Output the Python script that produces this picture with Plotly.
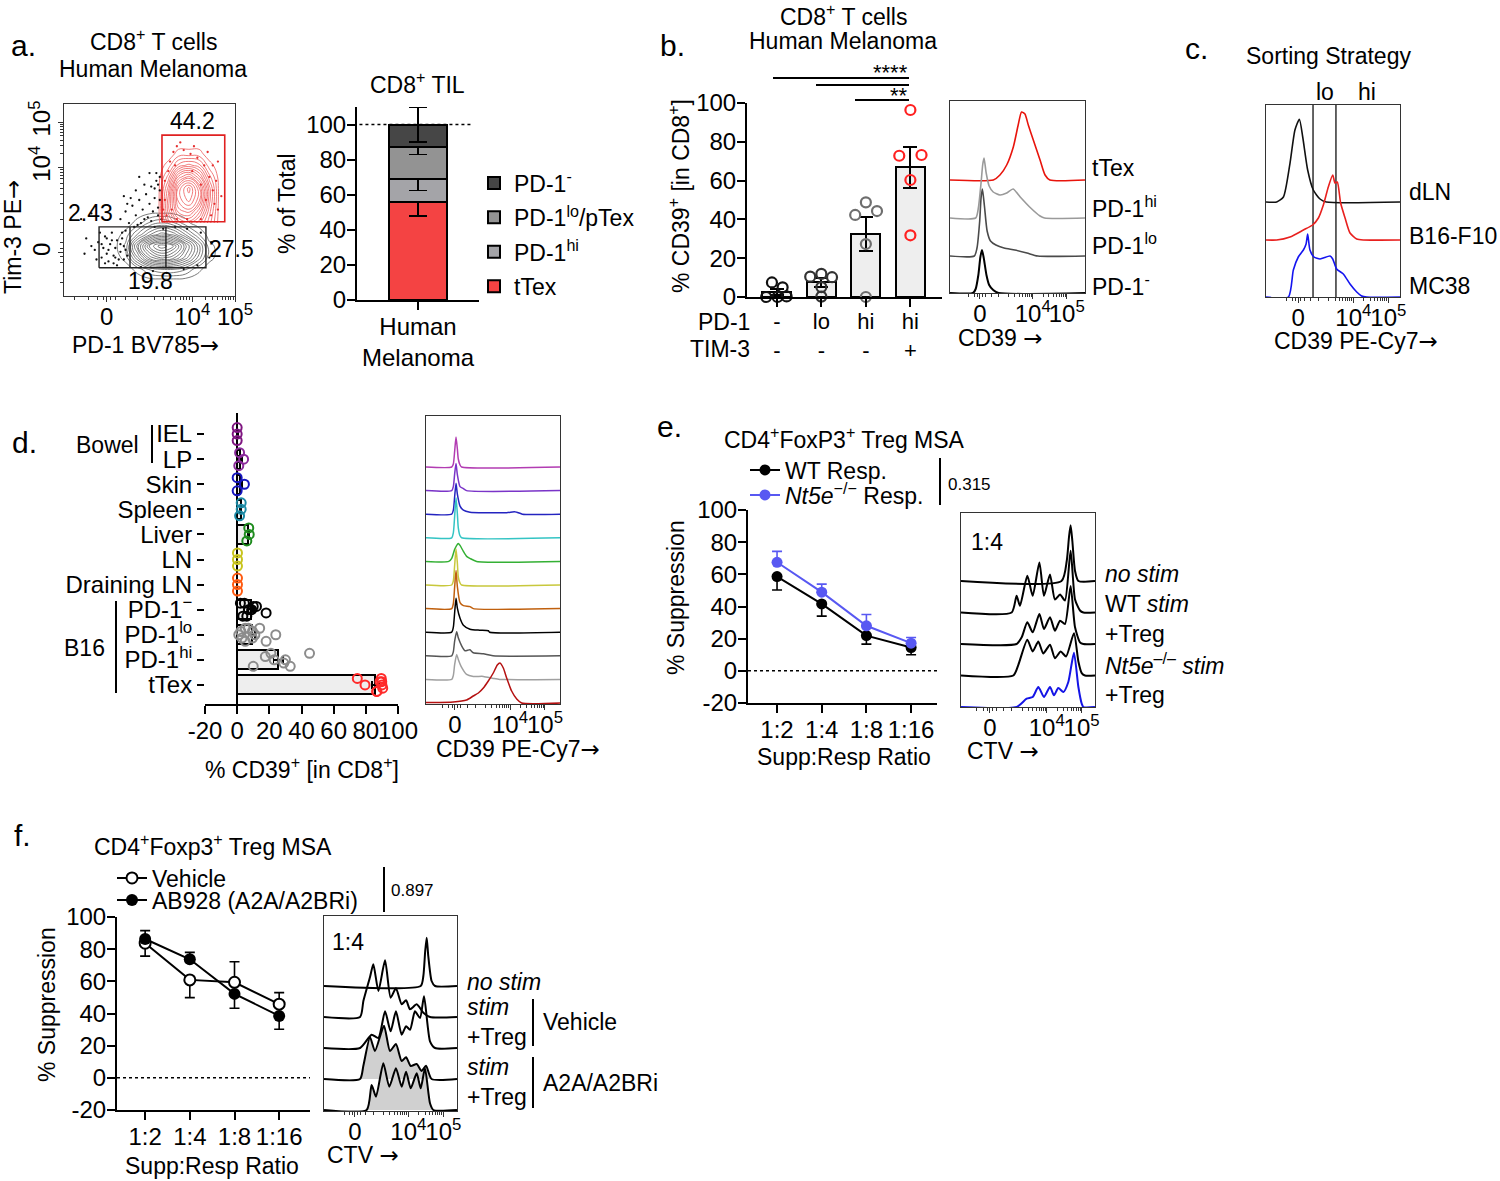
import math
import plotly.graph_objects as go

FONT = "Liberation Sans"
W, H = 1500, 1181

# ============================ DATA ============================
# (a) flow plot: PD-1 BV785 (x) vs Tim-3 PE (y), display units 0-100
a_gate_freq = ["44.2", "2.43", "27.5", "19.8"]
a_tex_gate_x = [57.3, 94, 94, 57.3, 57.3]
a_tex_gate_y = [38.7, 38.7, 83.8, 83.8, 38.7]
a_neg_gate_x = [20.5, 83, 83, 20.5, 20.5, None, 38.6, 38.6, None, 59.6, 59.6]
a_neg_gate_y = [14.7, 14.7, 36, 36, 14.7, None, 14.7, 36, None, 14.7, 36]
a_grey_gx = [15, 22, 29, 36, 43, 50, 57, 64, 71, 78, 85, 92]
a_grey_gy = [8, 14, 20, 26, 32, 38, 44]
a_grey_z = [
    [0, 0, 0, 0, 0, 0, 0, 0, 0, 0, 0, 0],
    [0, 0, 0, 0, 1, 3, 4, 4, 3, 1, 0, 0],
    [0, 0, 0, 1, 6, 11, 13, 12, 9, 5, 1, 0],
    [0, 0, 0, 2, 9, 15, 18, 16, 11, 6, 1, 0],
    [0, 0, 0, 1, 4, 7, 9, 8, 5, 2, 0, 0],
    [0, 0, 0, 0, 1, 3, 4, 3, 1, 0, 0, 0],
    [0, 0, 0, 0, 0, 0, 0, 0, 0, 0, 0, 0],
]
a_red_gx = [55, 61, 67, 73, 79, 85, 91]
a_red_gy = [38, 44, 50, 56, 62, 68, 74, 80]
a_red_z = [
    [0, 4, 7, 8, 6, 3, 0],
    [0, 6, 11, 12, 9, 4, 0],
    [0, 6, 13, 15, 12, 5, 0],
    [0, 5, 13, 16, 12, 5, 0],
    [0, 3, 9, 11, 8, 3, 0],
    [0, 1, 4, 5, 4, 1, 0],
    [0, 0, 1, 1, 1, 0, 0],
    [0, 0, 0, 0, 0, 0, 0],
]
a_dot_x = [18, 20, 22, 23, 24, 25, 26, 27, 28, 29, 30, 31, 32, 33, 34, 35, 36, 37, 21, 19, 24, 31, 16, 13, 12, 10, 16,
           33, 36, 38, 40, 42, 44, 45, 46, 48, 49, 50, 51, 52, 53, 54, 55, 47, 42, 39, 44, 50, 56, 57, 37, 41, 35,
           45, 52, 60, 70, 78, 85, 86, 80, 72, 65, 58, 26, 28, 30, 33, 35, 22, 25, 29, 36, 34,
           43, 47, 51, 53, 55, 56, 55, 54, 56, 53]
a_dot_y = [24, 28, 20, 25, 31, 22, 18, 27, 33, 21, 25, 29, 19, 23, 30, 26, 34, 21, 33, 19, 17, 16, 26, 30, 22, 40, 43,
           40, 44, 38, 47, 42, 50, 38, 45, 53, 41, 48, 57, 44, 51, 60, 46, 58, 55, 51, 62, 64, 55, 40, 48, 36, 52,
           15, 13, 12, 14, 16, 20, 28, 33, 35, 36, 35, 24, 29, 20, 27, 19, 27, 30, 17, 24, 33,
           37, 40, 39, 36, 42, 50, 58, 64, 62, 56]
a_reddot_x = [60, 62, 64, 66, 70, 74, 78, 82, 85, 87, 88, 86, 80, 72, 66, 59, 59, 61, 76, 90, 89, 84, 68, 92, 58,
              63, 83, 80, 75, 65, 90, 87]
a_reddot_y = [42, 70, 75, 78, 76, 74, 72, 68, 62, 55, 48, 42, 40, 40, 40, 50, 60, 65, 78, 70, 60, 75, 80, 52, 45,
              45, 50, 58, 65, 68, 45, 68]

# (a) CD8+ TIL composition (stacked, % of total)
a_bar_groups = ["tTex", "PD-1<sup>hi</sup>", "PD-1<sup>lo</sup>/pTex", "PD-1<sup>-</sup>"]
a_bar_means = [56, 13, 18, 13]
a_bar_errs = [8, 6.5, 4, 10]
a_bar_category = "Human<br>Melanoma"

# (b) % CD39+ in CD8+ subsets
b_pd1 = ["-", "lo", "hi", "hi"]
b_tim3 = ["-", "-", "-", "+"]
b_means = [2.5, 7.6, 32.5, 66.9]
b_sem = [1.5, 2.3, 8.7, 10.6]
b_points = [
    [7.5, 5.0, 0.0, 0.0, 0.3],
    [10.5, 11.9, 10.2, 5.1, 0.2],
    [42.3, 48.8, 44.3, 27.3, 0.0],
    [96.4, 72.8, 73.2, 60.3, 31.8],
]
b_stars = ["****", "**"]

# (b) CD39 histograms (x: display units, y: height)
b_h_neg_x = [0, 17, 19, 21, 22.5, 23.7, 25, 27, 29, 32, 36, 100]
b_h_neg_y = [0, 0, 4, 18, 36, 43, 35, 18, 8, 3, 0, 0]
b_h_lo_x = [0, 18, 20, 22, 23, 24, 25.5, 27.5, 30, 34, 40, 48, 57, 65, 100]
b_h_lo_y = [0, 0, 8, 35, 58, 67, 50, 25, 15, 11, 8, 6, 3, 0, 0]
b_h_hi_x = [0, 19, 21, 23, 24.2, 25.2, 26.8, 29, 32, 37, 42, 46.7, 52, 59, 66.7, 70, 100]
b_h_hi_y = [0, 0, 10, 35, 53, 60, 45, 32, 26, 23, 25, 29, 21, 11, 2, 0, 0]
b_h_tex_x = [0, 32.1, 37, 42, 46.9, 50.5, 53, 55.5, 58, 61.7, 66.7, 70.4, 74, 100]
b_h_tex_y = [0, 0, 5, 15, 33, 55, 68, 66, 55, 40, 20, 5, 0, 0]

# (c) sorting strategy histograms
c_gates = [35.1, 52.2]
c_dln_x = [0, 8, 13, 17.9, 21.6, 24.9, 27.4, 31.1, 35.3, 40.3, 45, 100]
c_dln_y = [0, 0, 5, 38.7, 72, 82.7, 65, 32, 12, 3, 0, 0]
c_b16_x = [0, 8, 17.9, 27.9, 34.8, 39.1, 42.8, 46.5, 49.8, 51.5, 53.2, 55.7, 59, 62.7, 67.7, 72.6, 100]
c_b16_y = [0, 0, 3, 10, 15, 22, 35, 53, 65, 57, 58, 37, 22, 7, 1, 0, 0]
c_mc38_x = [0, 16.7, 20.4, 24.1, 27.9, 29.9, 31.1, 32.8, 35.8, 40.3, 42.8, 47.8, 49.8, 52.7, 57.7, 62.7, 67.7,
            71.4, 75.1, 100]
c_mc38_y = [0, 0, 27, 40, 47, 53, 63, 47, 40, 38, 39, 41, 38, 28, 23, 13, 5, 1, 0, 0]

# (d) % CD39+ across tissues
d_cats = ["IEL", "LP", "Skin", "Spleen", "Liver", "LN", "Draining LN",
          "PD-1<sup>\u2212</sup>", "PD-1<sup>lo</sup>", "PD-1<sup>hi</sup>", "tTex"]
d_colors = ["#7E1580", "#8A2A9A", "#1515C0", "#1C8AA5", "#1E8C1E", "#C8C41E", "#FF5A10",
            "#000000", "#8C8C8C", "#8C8C8C", "#FF2A2A"]
d_means = [0.2, 2.0, 1.5, 2.2, 6.9, 0.2, 0.2, 8.5, 9.0, 25.5, 86.0]
d_errs = [0.2, 1.0, 1.5, 0.5, 0.5, 0.1, 0.1, 1.8, 2.0, 3.0, 2.0]
d_points = [
    [0, 0, 0],
    [1.5, 4, 1],
    [0, 4.5, 0],
    [2.5, 2.5, 1.5],
    [7.2, 7.5, 6],
    [0.2, 0.2, 0.2],
    [0.2, 0.2, 0.2],
    [2, 9, 6, 12, 18, 4.5, 7, 3.5, 10],
    [5, 11, 18, 2.3, 9.5, 14, 24, 5, 9.5, 3, 7, 1],
    [21, 30, 10, 17.5, 29, 45, 23, 33],
    [74.7, 79.5, 86.8, 89.9, 90.5, 89.6, 90, 86.8, 88.8],
]
# (d) CD39 histograms, top to bottom (same order as d_cats)
d_hist_colors = ["#B23CB2", "#7A34C8", "#2424C0", "#34C4C4", "#34B034", "#C8C83C", "#C0600E",
                 "#000000", "#555555", "#A0A0A0", "#B41010"]
d_h_x = [
    [0, 19.2, 20.4, 21.4, 22.4, 23.4, 24.1, 25.4, 26.6, 100],
    [0, 19.2, 20.4, 21.4, 22.4, 23.4, 25.4, 27.9, 30.3, 100],
    [0, 19.2, 20.4, 21.4, 22.4, 23.4, 25.4, 27.9, 32.8, 45.3, 60.2, 66, 67.7, 70.1, 72, 100],
    [0, 19.2, 20.4, 21.4, 22.4, 23.4, 24.1, 25.4, 26.6, 100],
    [0, 17, 19.2, 21.4, 23.4, 24.1, 25.4, 27.9, 30.3, 32.8, 37.8, 100],
    [0, 19.2, 20.4, 21.4, 22.4, 23.4, 24.1, 25.4, 26.6, 100],
    [0, 19.2, 20.4, 21.4, 22.4, 23.4, 25.4, 27.9, 32.8, 35.3, 100],
    [0, 19.2, 20.4, 21.4, 22.4, 23.4, 25.4, 27.9, 32.8, 40, 46.5, 47.5, 100],
    [0, 19.2, 20.4, 21.4, 22.9, 24.1, 26.6, 29.1, 31, 32.8, 35.3, 42.8, 50, 100],
    [0, 19.2, 20.4, 21.4, 22.9, 24.1, 26.6, 30.3, 35.3, 42.8, 50.2, 55, 100],
    [0, 3, 20.4, 30.3, 35.3, 39.1, 42.8, 46.5, 50.2, 53.2, 55.2, 57.7, 60.2, 63.9, 67.7, 71.4, 100],
]
d_h_y = [
    [0, 0, 3, 16, 30, 18, 8, 2, 0, 0],
    [0, 0, 4, 17, 27, 16, 4, 2, 0, 0],
    [0, 0, 4, 18, 31, 20, 8, 4, 2, 1.5, 1.5, 2.5, 2, 1, 0, 0],
    [0, 0, 5, 22, 40, 24, 10, 2, 0, 0],
    [0, 0, 3, 12, 17, 18, 16, 10, 5, 3, 0, 0],
    [0, 0, 4, 20, 36, 22, 8, 2, 0, 0],
    [0, 0, 5, 22, 38, 22, 6, 3, 2, 0, 0],
    [0, 0, 5, 20, 34, 24, 14, 7, 3, 2, 1.5, 0, 0],
    [0, 0, 4, 15, 24, 18, 10, 5, 5.5, 6, 3, 2, 0, 0],
    [0, 0, 4, 15, 25, 20, 12, 5, 3, 3, 1, 0, 0],
    [0.5, 0.5, 1, 3, 7, 10, 15, 22, 30, 38, 40, 35, 25, 12, 4, 0, 0],
]

# (e) Treg suppression assay
e_ratios = ["1:2", "1:4", "1:8", "1:16"]
e_wt = [58.6, 41.6, 21.9, 14.5]
e_wt_err = [8.3, 7.6, 5.3, 4.5]
e_ko = [67.5, 48.9, 28.0, 17.2]
e_ko_err = [6.8, 5.0, 7.0, 3.5]
e_p = "0.315"
e_h_nostim_x = [0, 75, 78.9, 80.6, 81.8, 83.1, 85.1, 87.6, 100]
e_h_nostim_y = [0, 0, 20, 44, 55.7, 40, 10, 0, 0]
e_h_wt_x = [0, 37.8, 41.5, 44.0, 49.5, 53.5, 58.5, 61.9, 66.4, 70.1, 73.9, 77.6, 81.8, 85.1, 88.8, 91.3, 100]
e_h_wt_y = [0, 0, 16.7, 6.7, 36.7, 16.7, 50, 16.7, 38, 13, 18, 12, 61.7, 13, 2, 0, 0]
e_h_wtreg_x = [0, 41.5, 45.3, 49.5, 53.5, 58.5, 61.9, 66.4, 70.1, 73.9, 77.6, 81.8, 85.1, 88.8, 91.3, 100]
e_h_wtreg_y = [0, 0, 6.7, 21.7, 11.7, 30, 15, 26.7, 13.3, 23.3, 20, 58, 16.7, 1.7, 0, 0]
e_h_ko_x = [0, 39.05, 42.8, 49.5, 53.5, 57.7, 61.4, 66.4, 70.1, 74.4, 78.4, 84.3, 87.6, 90.1, 92.5, 100]
e_h_ko_y = [0, 0, 10.7, 35.7, 24, 34, 22, 30.7, 17.3, 24, 19, 42.3, 14, 2.3, 0, 0]
e_h_koreg_x = [0, 41.5, 49.0, 53.5, 57.7, 61.9, 66.4, 69.4, 72.6, 76.4, 80.1, 84.3, 87.6, 90.1, 91.3, 100]
e_h_koreg_y = [0, 0, 8.3, 10, 20, 10, 20, 11.7, 19, 15, 25, 54.3, 20, 3.3, 0, 0]

# (f) Treg suppression with A2A/A2B inhibitor
f_veh = [83.7, 60.9, 59.4, 45.8]
f_veh_up = [0, 0, 12.8, 7.2]
f_veh_dn = [8, 11, 0, 0]
f_ab = [86.3, 73.7, 52.2, 38.5]
f_ab_up = [5.2, 4.3, 0, 0]
f_ab_dn = [0, 0, 8.9, 8.3]
f_p = "0.897"
f_h_nostim_x = [0, 72.7, 74.7, 76.1, 77.2, 78.4, 80.9, 83.5, 100]
f_h_nostim_y = [0, 0, 10, 35, 48.3, 30, 5, 0, 0]
f_h_veh_x = [0, 27.1, 29.6, 34.6, 37.1, 40.9, 45.9, 50.1, 54.1, 58.4, 61.7, 64.7, 69.7, 74.7, 79.7, 100]
f_h_veh_y = [0, 0, 16, 40, 52.7, 26, 56.7, 19.3, 28.7, 12.7, 16.7, 7.7, 12.7, 4.3, 0, 0]
f_h_vehreg_x = [0, 27.1, 35.8, 40.9, 45.9, 50.1, 54.1, 58.4, 61.7, 64.7, 68.4, 72.2, 75.2, 79.7, 83.5, 100]
f_h_vehreg_y = [0, 0, 13.3, 10, 36.7, 16.7, 36.7, 13.3, 21.7, 18.3, 36.7, 30, 51.7, 6.7, 0, 0]
f_h_ab_x = [0, 27.1, 29.6, 34.6, 38.3, 45.1, 49.6, 54.1, 58.4, 61.7, 65.2, 69.7, 73.4, 76.7, 80.9, 100]
f_h_ab_y = [0, 0, 13.3, 41.7, 28, 53.3, 28, 35, 18, 21.7, 13, 15, 8, 13.3, 0, 0]
f_h_abreg_x = [0, 32.1, 35.8, 39.1, 44.6, 49.1, 54.1, 58.4, 61.7, 65.2, 69.7, 72.7, 75.9, 79.7, 82.2, 100]
f_h_abreg_y = [0, 0, 25, 13.3, 46.7, 23.3, 41.7, 23.3, 38.3, 21.7, 36.7, 21.7, 41.7, 6.7, 0, 0]

# ====================== GEOMETRY / STYLE ======================
TXT = 23      # general text size
TICK = 24     # axis tick label size
ARROW = '<span style="font-family:DejaVu Sans">\u2192</span>'


def xd(x0, x1):
    return [x0 / W, x1 / W]


def yd(top, bottom):
    return [1 - bottom / H, 1 - top / H]


def px(x):
    return x / W


def py(y):
    return 1 - y / H


def xn(n):
    return "x" if n == 1 else f"x{n}"


def yn(n):
    return "y" if n == 1 else f"y{n}"


def merge(*ds, **kw):
    out = {}
    for d in ds:
        out.update(d)
    out.update(kw)
    return out


fig = go.Figure()
shapes = []
anns = []


def T(n, trace):
    trace.update(xaxis=xn(n), yaxis=yn(n))
    fig.add_trace(trace)


def txt(x, y, s, size=TXT, xa="center", ya="middle", angle=0):
    anns.append(dict(x=px(x), y=py(y), xref="paper", yref="paper", text=s, showarrow=False,
                     font=dict(family=FONT, size=size, color="black"),
                     xanchor=xa, yanchor=ya, textangle=angle))


def pline(x0, y0, x1, y1, width=2, color="black"):
    shapes.append(dict(type="line", xref="paper", yref="paper", x0=px(x0), y0=py(y0),
                       x1=px(x1), y1=py(y1), line=dict(color=color, width=width)))


def ref_hline(n, yval, d0=0, d1=1):
    shapes.append(dict(type="line", xref=f"{xn(n)} domain", yref=yn(n), x0=d0, x1=d1, y0=yval, y1=yval,
                       line=dict(color="black", width=1.5, dash="dot")))


def hist(n, xs, ys, off, color, width=1.6, fill=None):
    tr = go.Scatter(x=xs, y=[v + off for v in ys], mode="lines",
                    line=dict(color=color, width=width, shape="spline", smoothing=0.6),
                    showlegend=False, hoverinfo="skip")
    if fill:
        tr.update(fill="toself", fillcolor=fill)
    T(n, tr)


def flow_ticks(zero, d3, d4, d5, neg=None):
    minor = [d3]
    if neg is not None:
        minor.append(neg)
    for a, b in ((d3, d4), (d4, d5)):
        for k in range(2, 10):
            minor.append(a + (b - a) * math.log10(k))
    w = d3 - zero
    for f in (-0.6, -0.3, -0.12, 0.12, 0.3, 0.6):
        minor.append(zero + f * w)
    return dict(tickmode="array", tickvals=[zero, d4, d5],
                ticktext=["0", "10<sup>4</sup>", "10<sup>5</sup>"], tickangle=0,
                minor=dict(tickmode="array", tickvals=[m for m in minor if 0 < m < 100],
                           ticks="outside", ticklen=3, tickwidth=1, tickcolor="#333"))


TICKFONT = dict(family=FONT, size=TICK, color="black")
gp_axis = dict(showline=True, linecolor="black", linewidth=2, ticks="outside", ticklen=8, tickwidth=2,
               tickcolor="black", showgrid=False, zeroline=False, tickfont=TICKFONT, fixedrange=True,
               tickangle=0, ticklabelstandoff=-4)
flow_axis = dict(showline=True, mirror=True, linecolor="#333", linewidth=1, showgrid=False, zeroline=False,
                 ticks="outside", ticklen=5, tickwidth=1, tickcolor="#333", tickfont=TICKFONT,
                 ticklabelstandoff=-6)
flow_yframe = dict(showline=True, mirror=True, linecolor="#333", linewidth=1, showgrid=False, zeroline=False,
                   ticks="", showticklabels=False)

axes = {}


def set_axes(n, xcfg, ycfg):
    axes["xaxis" if n == 1 else f"xaxis{n}"] = merge(xcfg, anchor=yn(n))
    axes["yaxis" if n == 1 else f"yaxis{n}"] = merge(ycfg, anchor=xn(n))


# ---------------- Panel a: flow plot ----------------
T(1, go.Scatter(x=a_dot_x, y=a_dot_y, mode="markers", marker=dict(size=2.3, color="#111"),
                showlegend=False, hoverinfo="skip"))
T(1, go.Scatter(x=a_reddot_x, y=a_reddot_y, mode="markers", marker=dict(size=2.3, color="#E53030"),
                showlegend=False, hoverinfo="skip"))
T(1, go.Contour(x=a_grey_gx, y=a_grey_gy, z=a_grey_z, showscale=False, hoverinfo="skip",
                contours=dict(coloring="lines", start=0.6, end=18, size=1.1),
                colorscale=[[0, "#5a5a5a"], [1, "#5a5a5a"]], line=dict(width=0.8, smoothing=1.3)))
T(1, go.Contour(x=a_red_gx, y=a_red_gy, z=a_red_z, showscale=False, hoverinfo="skip",
                contours=dict(coloring="lines", start=0.6, end=16, size=1.0),
                colorscale=[[0, "#EE5A5A"], [1, "#EE5A5A"]], line=dict(width=0.8, smoothing=1.3)))
T(1, go.Scatter(x=a_neg_gate_x, y=a_neg_gate_y, mode="lines", line=dict(color="#222", width=1.4),
                showlegend=False, hoverinfo="skip"))
T(1, go.Scatter(x=a_tex_gate_x, y=a_tex_gate_y, mode="lines", line=dict(color="#E02020", width=1.6),
                showlegend=False, hoverinfo="skip"))
set_axes(1,
         merge(flow_axis, flow_ticks(25, 43, 75, 100, 6.4), domain=xd(64, 235), range=[0, 100]),
         merge(flow_axis, flow_ticks(22.5, 39.8, 67, 90.6, 6.8), domain=yd(104, 296), range=[0, 100],
               tickangle=-90, ticklabelstandoff=-2))

# ---------------- Panel a: stacked composition bar ----------------
a_colors = ["#F44343", "#A4A4A8", "#939393", "#464646"]
a_ranks = [4, 3, 2, 1]
for name, val, err, col, rk in zip(a_bar_groups, a_bar_means, a_bar_errs, a_colors, a_ranks):
    T(2, go.Bar(x=[0], y=[val], width=0.475, name=name, legend="legend", legendgroup=name, legendrank=rk,
                marker=dict(color=col, line=dict(color="black", width=2)),
                error_y=dict(type="data", array=[err], color="black", thickness=1.6, width=9)))
ref_hline(2, 100, 0.02, 0.95)
set_axes(2,
         merge(gp_axis, domain=xd(357, 479), range=[-0.5, 0.5], tickmode="array", tickvals=[0],
               ticktext=[a_bar_category]),
         merge(gp_axis, domain=yd(107, 300), range=[0, 110], tickmode="array",
               tickvals=[0, 20, 40, 60, 80, 100]))

# ---------------- Panel b: bar + points ----------------
b_jitter = [[-0.11, 0.13, -0.24, 0.015, 0.22], [-0.25, 0, 0.24, 0, 0], [-0.24, 0, 0.25, 0, 0],
            [0, -0.25, 0.25, 0, 0]]
b_point_colors = ["#111111", "#333333", "#6E6E6E", "#FF2020"]
T(3, go.Bar(x=[0, 1, 2, 3], y=b_means, width=0.65, showlegend=False,
            marker=dict(color="#EEEEEE", line=dict(color="black", width=2)),
            error_y=dict(type="data", array=b_sem, color="black", thickness=2, width=7)))
for i, pts in enumerate(b_points):
    T(3, go.Scatter(x=[i + j for j in b_jitter[i]], y=pts, mode="markers", showlegend=False,
                    cliponaxis=False,
                    marker=dict(symbol="circle-open", size=10, color=b_point_colors[i], line=dict(width=2.2))))
set_axes(3,
         merge(gp_axis, domain=xd(747, 942), range=[-0.67, 3.71], tickmode="array", tickvals=[0, 1, 2, 3],
               ticktext=[f"{p}<br>{t}" for p, t in zip(b_pd1, b_tim3)],
               tickfont=dict(family=FONT, size=22, color="black")),
         merge(gp_axis, domain=yd(103, 297), range=[0, 100], tickmode="array",
               tickvals=[0, 20, 40, 60, 80, 100]))
for x0, x1, yy in [(773, 909, 78), (816, 909, 85), (855, 909, 100)]:
    pline(x0, yy, x1, yy, width=2)
txt(890, 73, b_stars[0], 22)
txt(899, 95, b_stars[1], 22)

# ---------------- Panel b: CD39 histograms ----------------
hist(4, b_h_tex_x, b_h_tex_y, 113, "#E8140C")
hist(4, b_h_hi_x, b_h_hi_y, 75, "#9A9A9A")
hist(4, b_h_lo_x, b_h_lo_y, 37, "#4A4A4A")
hist(4, b_h_neg_x, b_h_neg_y, 0, "#000000", width=2)
set_axes(4, merge(flow_axis, flow_ticks(22.2, 36, 61.3, 86.5), domain=xd(950, 1085), range=[0, 100]),
         merge(flow_yframe, domain=yd(101, 293), range=[0, 192]))

# ---------------- Panel c: sorting strategy ----------------
for g in c_gates:
    T(5, go.Scatter(x=[g, g], y=[0, 192], mode="lines", line=dict(color="#222", width=1.4),
                    showlegend=False, hoverinfo="skip"))
hist(5, c_dln_x, c_dln_y, 95, "#111111")
hist(5, c_b16_x, c_b16_y, 57, "#E8201E")
hist(5, c_mc38_x, c_mc38_y, 0, "#1414F0")
set_axes(5, merge(flow_axis, flow_ticks(24.1, 39, 65.2, 91.3), domain=xd(1266, 1400), range=[0, 100]),
         merge(flow_yframe, domain=yd(105, 297), range=[0, 192]))

# ---------------- Panel d: horizontal bars + points ----------------
d_jit = [-0.26, 0, 0.26, -0.13, 0.13]
T(6, go.Bar(x=d_means, y=list(range(len(d_cats))), orientation="h", width=0.76, showlegend=False,
            marker=dict(color="#EEEEEE", line=dict(color="black", width=2)),
            error_x=dict(type="data", array=d_errs, color="black", thickness=1.6, width=4)))
for i, pts in enumerate(d_points):
    T(6, go.Scatter(x=pts, y=[i + d_jit[k % len(d_jit)] for k in range(len(pts))], mode="markers",
                    showlegend=False, cliponaxis=False,
                    marker=dict(symbol="circle-open", size=9, color=d_colors[i], line=dict(width=2))))
set_axes(6,
         merge(gp_axis, domain=xd(205, 398), range=[-20, 100], tickmode="array",
               tickvals=[-20, 0, 20, 40, 60, 80, 100], ticktext=["-20", "0", "20", "40", "60", "80", "100"],
               zeroline=True, zerolinecolor="black", zerolinewidth=2),
         merge(gp_axis, domain=yd(413, 704), range=[10.76, -0.84], showline=False, ticklen=7,
               ticklabelstandoff=0,
               tickmode="array", tickvals=list(range(len(d_cats))), ticktext=d_cats))

# ---------------- Panel d: histograms ----------------
for i in range(len(d_h_x)):
    hist(7, d_h_x[i], d_h_y[i], (10 - i) * 23.6 + 1, d_hist_colors[i], width=1.5)
set_axes(7, merge(flow_axis, flow_ticks(21.6, 36.6, 62.7, 88.8), domain=xd(426, 560), range=[0, 100]),
         merge(flow_yframe, domain=yd(416, 704), range=[0, 288]))

# ---------------- Panel e: suppression lines ----------------
ref_hline(8, 0)
T(8, go.Scatter(x=[0, 1, 2, 3], y=e_wt, mode="lines+markers", name="WT Resp.", legend="legend2",
                cliponaxis=False, line=dict(color="black", width=2), marker=dict(size=11, color="black"),
                error_y=dict(type="data", symmetric=False, array=[0, 0, 0, 0], arrayminus=e_wt_err,
                             color="black", thickness=1.6, width=5)))
T(8, go.Scatter(x=[0, 1, 2, 3], y=e_ko, mode="lines+markers",
                name="<i>Nt5e</i><sup>\u2212/\u2212</sup> Resp.", legend="legend3",
                cliponaxis=False, line=dict(color="#5858F2", width=2), marker=dict(size=11, color="#5858F2"),
                error_y=dict(type="data", symmetric=False, array=e_ko_err, arrayminus=[0, 0, 0, 0],
                             color="#5858F2", thickness=1.6, width=5)))
set_axes(8,
         merge(gp_axis, domain=xd(748, 937), range=[-0.65, 3.58], tickmode="array", tickvals=[0, 1, 2, 3],
               ticktext=e_ratios),
         merge(gp_axis, domain=yd(510, 703), range=[-20, 100], tickmode="array",
               tickvals=[-20, 0, 20, 40, 60, 80, 100], ticktext=["-20", "0", "20", "40", "60", "80", "100"]))

# ---------------- Panel e: CTV histograms ----------------
hist(9, e_h_nostim_x, e_h_nostim_y, 126, "#000000", width=2)
hist(9, e_h_wt_x, e_h_wt_y, 94.5, "#000000", width=2)
hist(9, e_h_wtreg_x, e_h_wtreg_y, 63, "#000000", width=2)
hist(9, e_h_ko_x, e_h_ko_y, 31.5, "#000000", width=2)
hist(9, e_h_koreg_x, e_h_koreg_y, 0, "#1414E6", width=2)
set_axes(9, merge(flow_axis, flow_ticks(21.6, 38, 64, 90), domain=xd(961, 1095), range=[0, 100]),
         merge(flow_yframe, domain=yd(513, 707), range=[0, 194]))

# ---------------- Panel f: suppression lines ----------------
ref_hline(10, 0)
T(10, go.Scatter(x=[0, 1, 2, 3], y=f_veh, mode="lines+markers", name="Vehicle", legend="legend4",
                 cliponaxis=False, line=dict(color="black", width=2),
                 marker=dict(size=11, color="white", line=dict(color="black", width=2)),
                 error_y=dict(type="data", symmetric=False, array=f_veh_up, arrayminus=f_veh_dn,
                              color="black", thickness=1.6, width=5)))
T(10, go.Scatter(x=[0, 1, 2, 3], y=f_ab, mode="lines+markers", name="AB928 (A2A/A2BRi)", legend="legend5",
                 cliponaxis=False, line=dict(color="black", width=2), marker=dict(size=12, color="black"),
                 error_y=dict(type="data", symmetric=False, array=f_ab_up, arrayminus=f_ab_dn,
                              color="black", thickness=1.6, width=5)))
set_axes(10,
         merge(gp_axis, domain=xd(117, 310), range=[-0.63, 3.69], tickmode="array", tickvals=[0, 1, 2, 3],
               ticktext=e_ratios),
         merge(gp_axis, domain=yd(917, 1110), range=[-20, 100], tickmode="array",
               tickvals=[-20, 0, 20, 40, 60, 80, 100], ticktext=["-20", "0", "20", "40", "60", "80", "100"]))

# ---------------- Panel f: CTV histograms ----------------
hist(11, f_h_nostim_x, f_h_nostim_y, 125, "#000000", width=2)
hist(11, f_h_veh_x, f_h_veh_y, 94, "#000000", width=2)
hist(11, f_h_vehreg_x, f_h_vehreg_y, 63, "#000000", width=2)
hist(11, f_h_ab_x, f_h_ab_y, 32, "#000000", width=2, fill="#D0D0D0")
hist(11, f_h_abreg_x, f_h_abreg_y, 1, "#000000", width=2, fill="#D0D0D0")
set_axes(11, merge(flow_axis, flow_ticks(23.3, 37, 63.4, 89.7), domain=xd(324, 457), range=[0, 100]),
         merge(flow_yframe, domain=yd(916, 1111), range=[0, 195]))

# ======================== TEXT ========================
# a
txt(9, 45, "a.", 30, xa="left")
txt(153, 40, "CD8<sup>+</sup> T cells")
txt(153, 69, "Human Melanoma")
txt(13, 237, "Tim-3 PE" + ARROW, angle=-90)
txt(192, 121, a_gate_freq[0])
txt(90, 213, a_gate_freq[1])
txt(231, 249, a_gate_freq[2])
txt(150, 281, a_gate_freq[3])
txt(145, 345, "PD-1 BV785" + ARROW)
txt(417, 83, "CD8<sup>+</sup> TIL")
txt(287, 204, "% of Total", angle=-90)
# b
txt(658, 45, "b.", 30, xa="left")
txt(843, 15, "CD8<sup>+</sup> T cells")
txt(843, 41, "Human Melanoma")
txt(752, 322, "PD-1", xa="right")
txt(752, 349, "TIM-3", xa="right")
txt(679, 196, "% CD39<sup>+</sup> [in CD8<sup>+</sup>]", angle=-90)
txt(1090, 168, "tTex", xa="left")
txt(1090, 207, "PD-1<sup>hi</sup>", xa="left")
txt(1090, 244, "PD-1<sup>lo</sup>", xa="left")
txt(1090, 285, "PD-1<sup>-</sup>", xa="left")
txt(1000, 338, "CD39 " + ARROW)
# c
txt(1183, 48, "c.", 30, xa="left")
txt(1328, 56, "Sorting Strategy")
txt(1325, 92, "lo")
txt(1367, 92, "hi")
txt(1407, 192, "dLN", xa="left")
txt(1407, 236, "B16-F10", xa="left")
txt(1407, 286, "MC38", xa="left")
txt(1356, 341, "CD39 PE-Cy7" + ARROW)
# d
txt(10, 442, "d.", 30, xa="left")
txt(108, 445, "Bowel")
pline(152, 425, 152, 463)
txt(84, 648, "B16")
pline(116, 601, 116, 693)
txt(302, 768, "% CD39<sup>+</sup> [in CD8<sup>+</sup>]")
txt(518, 749, "CD39 PE-Cy7" + ARROW)
# e
txt(655, 426, "e.", 30, xa="left")
txt(844, 438, "CD4<sup>+</sup>FoxP3<sup>+</sup> Treg MSA")
pline(940, 458, 940, 505)
txt(946, 484, e_p, 17, xa="left")
txt(676, 598, "% Suppression", angle=-90)
txt(844, 757, "Supp:Resp Ratio")
txt(987, 542, "1:4")
txt(1103, 574, "<i>no stim</i>", xa="left")
txt(1103, 604, "WT <i>stim</i>", xa="left")
txt(1103, 634, "+Treg", xa="left")
txt(1103, 664, "<i>Nt5e</i><sup>\u2013/\u2013</sup> <i>stim</i>", xa="left")
txt(1103, 695, "+Treg", xa="left")
txt(1003, 751, "CTV " + ARROW)
# f
txt(12, 835, "f.", 30, xa="left")
txt(213, 845, "CD4<sup>+</sup>Foxp3<sup>+</sup> Treg MSA")
pline(384, 867, 384, 912)
txt(389, 890, f_p, 17, xa="left")
txt(47, 1005, "% Suppression", angle=-90)
txt(212, 1166, "Supp:Resp Ratio")
txt(348, 942, "1:4")
txt(465, 982, "<i>no stim</i>", xa="left")
txt(465, 1007, "<i>stim</i>", xa="left")
txt(465, 1037, "+Treg", xa="left")
txt(465, 1067, "<i>stim</i>", xa="left")
txt(465, 1097, "+Treg", xa="left")
pline(533, 999, 533, 1046)
pline(533, 1057, 533, 1108)
txt(541, 1022, "Vehicle", xa="left")
txt(541, 1083, "A2A/A2BRi", xa="left")
txt(363, 1155, "CTV " + ARROW)

LEG = dict(bgcolor="rgba(0,0,0,0)", borderwidth=0, xanchor="left", yanchor="middle",
           font=dict(family=FONT, size=TXT, color="black"), itemwidth=30)

fig.update_layout(
    width=W, height=H, autosize=False,
    margin=dict(l=0, r=0, t=0, b=0, pad=0, autoexpand=False),
    paper_bgcolor="white", plot_bgcolor="white",
    font=dict(family=FONT, size=TXT, color="black"),
    barmode="stack", showlegend=True,
    shapes=shapes, annotations=anns,
    legend=merge(LEG, x=px(474), y=py(235), traceorder="grouped", tracegroupgap=1.5),
    legend2=merge(LEG, x=px(745), y=py(470)),
    legend3=merge(LEG, x=px(745), y=py(495)),
    legend4=merge(LEG, x=px(112), y=py(878)),
    legend5=merge(LEG, x=px(112), y=py(900)),
    **axes,
)

fig.write_html("out.html", config={"displayModeBar": False},
               post_script="document.body.style.margin='0';document.body.style.padding='0';")
